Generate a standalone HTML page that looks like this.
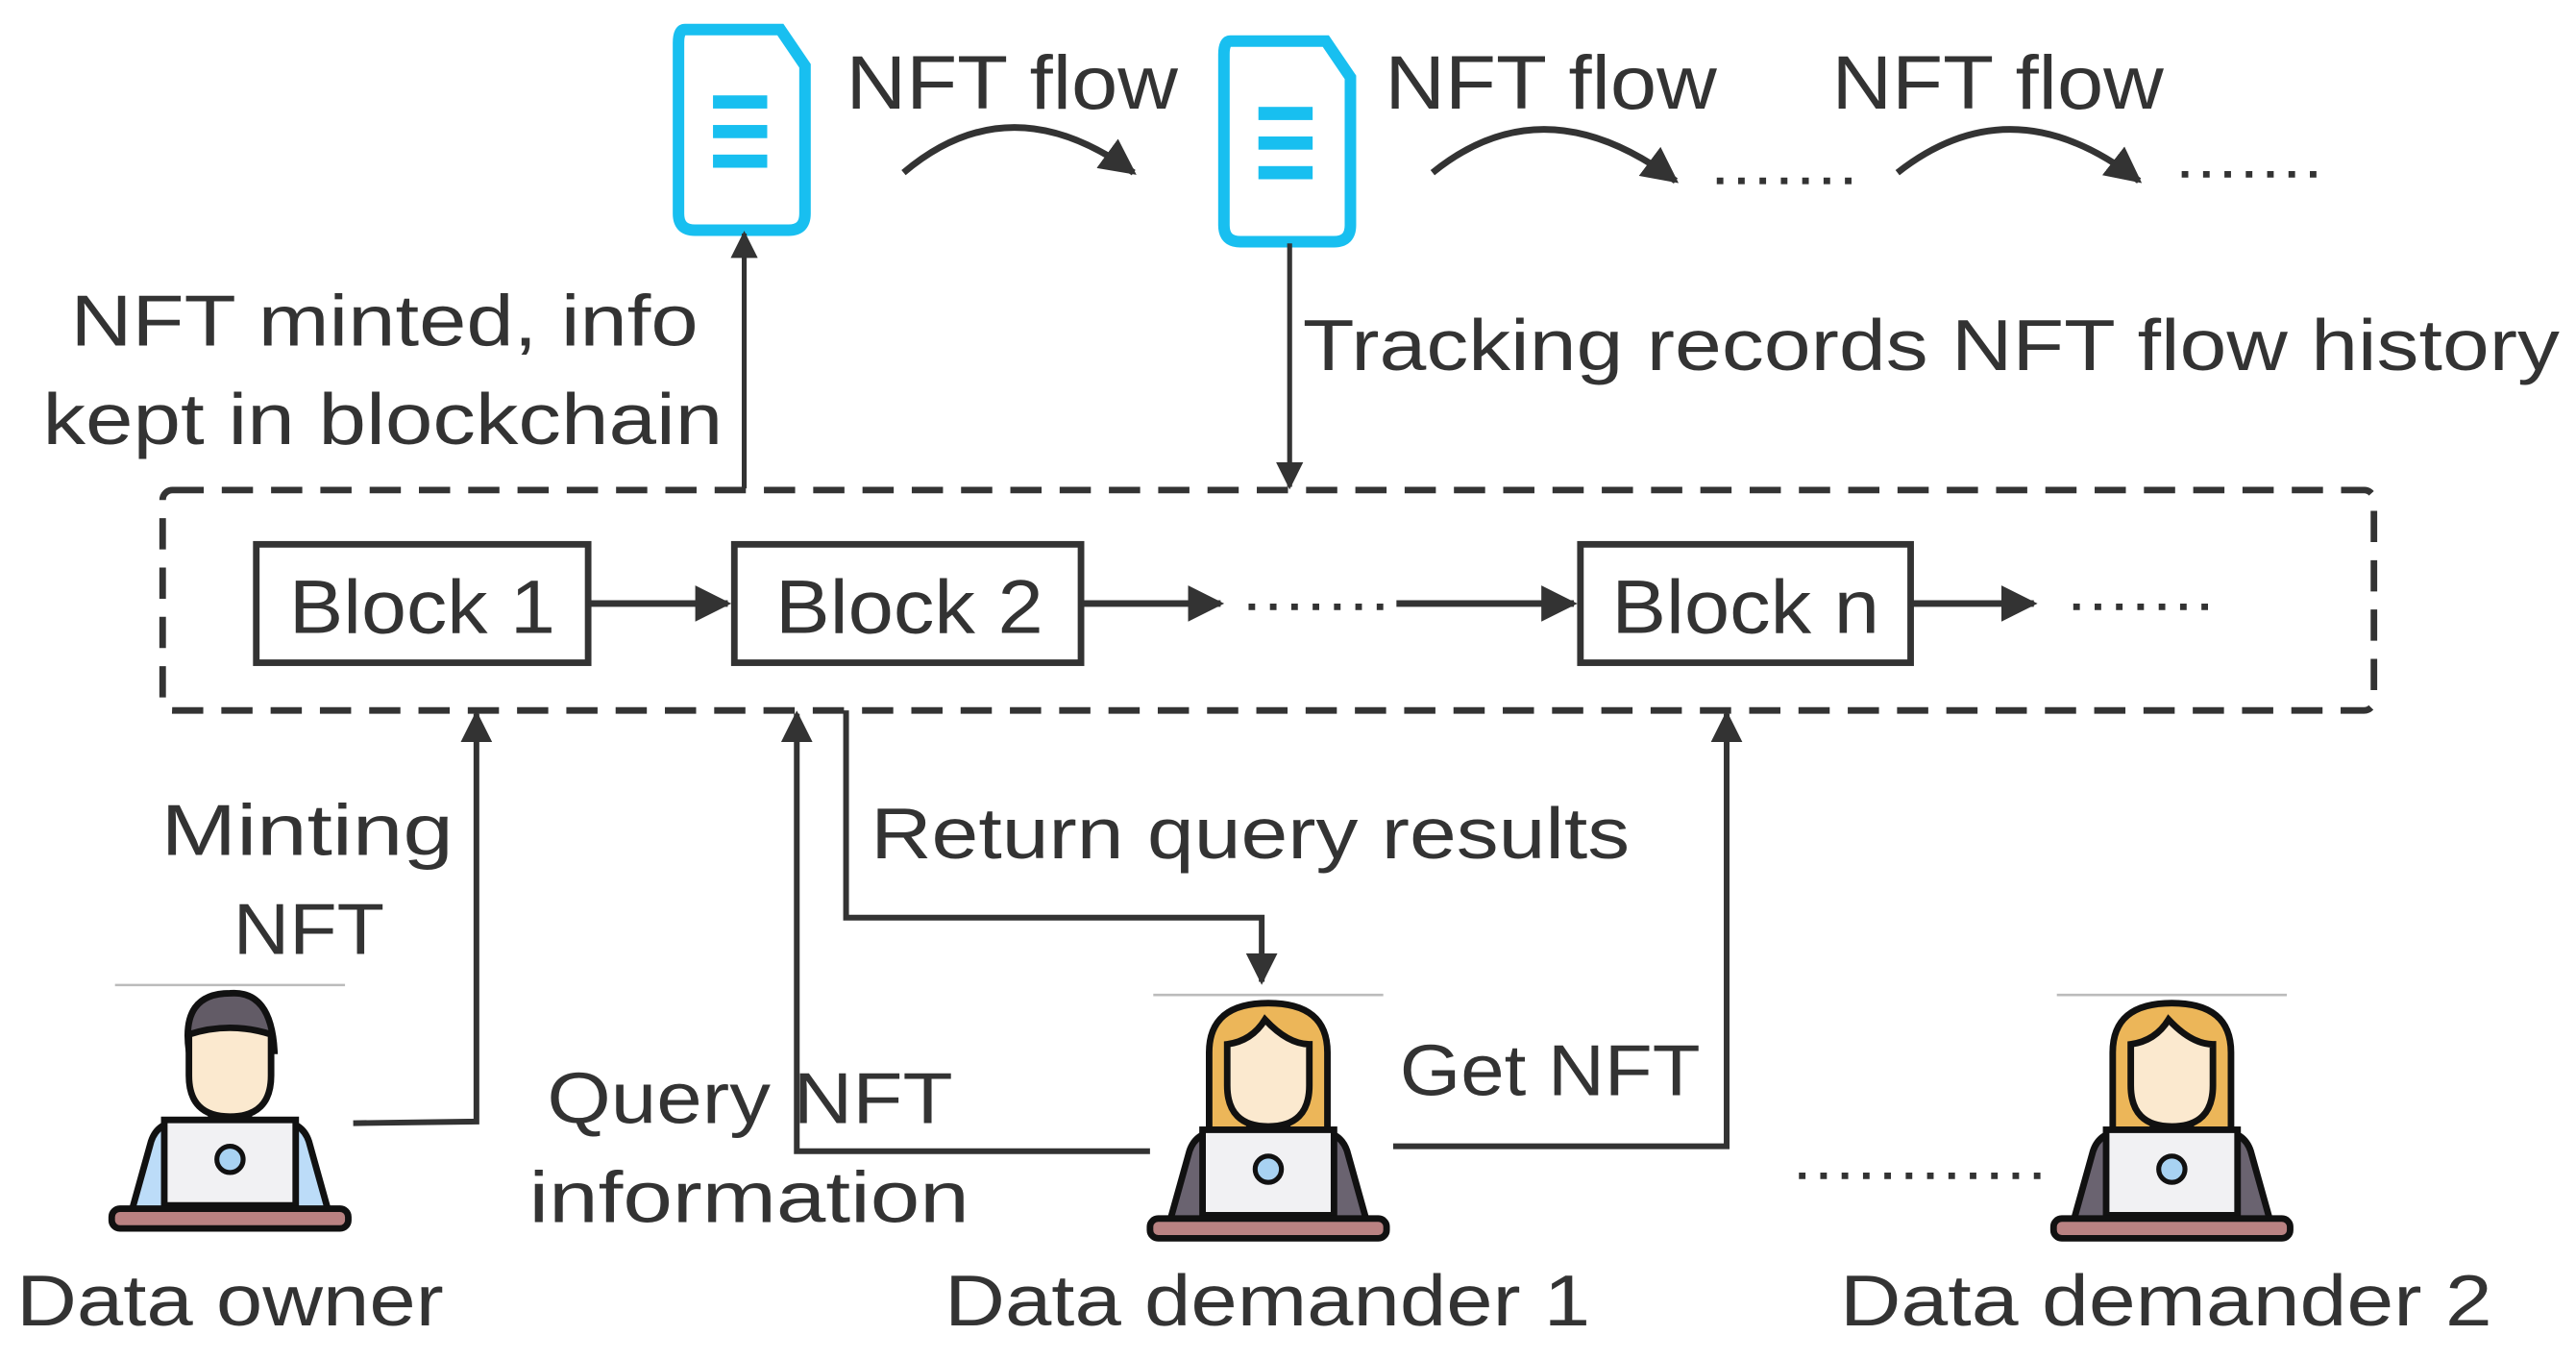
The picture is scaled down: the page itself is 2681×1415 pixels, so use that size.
<!DOCTYPE html>
<html><head><meta charset="utf-8"><style>
html,body{margin:0;padding:0;background:#fff;}
svg{display:block;}
text{font-family:"Liberation Sans",sans-serif;fill:#333;}
</style></head><body>
<svg width="2681" height="1415" viewBox="0 0 1568 827" preserveAspectRatio="none" xmlns="http://www.w3.org/2000/svg">
<defs>
<marker id="ah" viewBox="0 0 10 10" refX="9" refY="5" markerWidth="5.5" markerHeight="5.5" orient="auto-start-reverse" markerUnits="strokeWidth">
<path d="M0,0 L10,5 L0,10 z" fill="#333"/></marker>
<g id="doc">
<path d="M4,0 H62 L77,22 V112 Q77,122 67,122 H10 Q0,122 0,112 V8 Q0,0 4,0 Z" fill="#fff" stroke="#18bff0" stroke-width="7"/>
<rect x="21" y="40" width="33" height="8" fill="#18bff0"/>
<rect x="21" y="58" width="33" height="8" fill="#18bff0"/>
<rect x="21" y="76" width="33" height="8" fill="#18bff0"/>
</g>
<g id="girl">
<line x1="-70" y1="0" x2="70" y2="0" stroke="#bbb" stroke-width="1.5"/>
<path d="M-36,90 V35 Q-36,5 0,5 Q36,5 36,35 V90 Z" fill="#ecb659" stroke="#111" stroke-width="4"/>
<path d="M-12,78 h24 v12 h-24z" fill="#fbe9cf" stroke="#111" stroke-width="3"/>
<path d="M-25,30 Q-10,28 -2,15 Q12,30 25,30 V55 Q25,80 0,80 Q-25,80 -25,55 Z" fill="#fbe9cf" stroke="#111" stroke-width="4"/>
<path d="M-60,138 L-48,95 Q-44,83 -30,83 H30 Q44,83 48,95 L60,138 Z" fill="#6a6370" stroke="#111" stroke-width="4"/>
<rect x="-40" y="82" width="80" height="52" fill="#f1f1f3" stroke="#111" stroke-width="4"/>
<circle cx="0" cy="106" r="8" fill="#a8d2f2" stroke="#111" stroke-width="3"/>
<rect x="-72" y="136" width="144" height="12" rx="5" fill="#b98282" stroke="#111" stroke-width="4"/>
</g>
<g id="man">
<line x1="-70" y1="0" x2="70" y2="0" stroke="#bbb" stroke-width="1.5"/>
<path d="M-25,40 Q-30,5 0,5 Q25,3 27,40 Z" fill="#625b66" stroke="#111" stroke-width="4"/>
<path d="M-12,78 h24 v12 h-24z" fill="#fbe9cf" stroke="#111" stroke-width="3"/>
<path d="M-25,30 Q0,22 25,30 V55 Q25,80 0,80 Q-25,80 -25,55 Z" fill="#fbe9cf" stroke="#111" stroke-width="4"/>
<path d="M-60,138 L-48,95 Q-44,83 -30,83 H30 Q44,83 48,95 L60,138 Z" fill="#bcdcf8" stroke="#111" stroke-width="4"/>
<rect x="-40" y="82" width="80" height="52" fill="#f1f1f3" stroke="#111" stroke-width="4"/>
<circle cx="0" cy="106" r="8" fill="#a8d2f2" stroke="#111" stroke-width="3"/>
<rect x="-72" y="136" width="144" height="12" rx="5" fill="#b98282" stroke="#111" stroke-width="4"/>
</g>
</defs>

<use href="#doc" x="413" y="18"/>
<use href="#doc" x="745" y="25"/>

<g font-size="46">
<text x="515" y="66" textLength="202" lengthAdjust="spacingAndGlyphs">NFT flow</text>
<text x="843" y="66" textLength="202" lengthAdjust="spacingAndGlyphs">NFT flow</text>
<text x="1115" y="66" textLength="202" lengthAdjust="spacingAndGlyphs">NFT flow</text>
</g>
<g fill="none" stroke="#333" stroke-width="4">
<path d="M550,105 Q615,50 690,105" marker-end="url(#ah)"/>
<path d="M872,105 Q940,50 1020,110" marker-end="url(#ah)"/>
<path d="M1155,105 Q1225,50 1302,110" marker-end="url(#ah)"/>
</g>
<g stroke="#333" stroke-width="4" stroke-dasharray="4,9">
<line x1="1045" y1="110" x2="1132" y2="110"/>
<line x1="1328" y1="106" x2="1418" y2="106"/>
<line x1="760" y1="369" x2="850" y2="369"/>
<line x1="1262" y1="369" x2="1352" y2="369"/>
<line x1="1095" y1="715" x2="1242" y2="715"/>
</g>

<g stroke="#333" stroke-width="3" fill="none">
<line x1="453" y1="297" x2="453" y2="142" marker-end="url(#ah)"/>
<line x1="785" y1="148" x2="785" y2="296" marker-end="url(#ah)"/>
</g>
<g font-size="44">
<text x="425" y="210" text-anchor="end" textLength="382" lengthAdjust="spacingAndGlyphs">NFT minted, info</text>
<text x="440" y="270" text-anchor="end" textLength="414" lengthAdjust="spacingAndGlyphs">kept in blockchain</text>
<text x="793" y="225" textLength="765" lengthAdjust="spacingAndGlyphs">Tracking records NFT flow history</text>
</g>

<rect x="99" y="298" width="1346" height="134" rx="6" fill="none" stroke="#333" stroke-width="4" stroke-dasharray="19,11"/>

<g fill="none" stroke="#333" stroke-width="4">
<rect x="156" y="331" width="202" height="72"/>
<rect x="447" y="331" width="211" height="72"/>
<rect x="962" y="331" width="201" height="72"/>
</g>
<g font-size="46">
<text x="176" y="385" textLength="162" lengthAdjust="spacingAndGlyphs">Block 1</text>
<text x="472" y="385" textLength="163" lengthAdjust="spacingAndGlyphs">Block 2</text>
<text x="981" y="385" textLength="163" lengthAdjust="spacingAndGlyphs">Block n</text>
</g>
<g stroke="#333" stroke-width="4" fill="none">
<line x1="358" y1="367" x2="443" y2="367" marker-end="url(#ah)"/>
<line x1="658" y1="367" x2="743" y2="367" marker-end="url(#ah)"/>
<line x1="850" y1="367" x2="958" y2="367" marker-end="url(#ah)"/>
<line x1="1163" y1="367" x2="1238" y2="367" marker-end="url(#ah)"/>
</g>

<g stroke="#333" stroke-width="3.5" fill="none">
<polyline points="215,683 290,682 290,434" marker-end="url(#ah)"/>
<polyline points="700,700 485,700 485,434" marker-end="url(#ah)"/>
<polyline points="515,432 515,558 768,558 768,597" marker-end="url(#ah)"/>
<polyline points="848,697 1051,697 1051,434" marker-end="url(#ah)"/>
</g>
<g font-size="44">
<text x="187" y="520" text-anchor="middle" textLength="178" lengthAdjust="spacingAndGlyphs">Minting</text>
<text x="188" y="580" text-anchor="middle" textLength="92" lengthAdjust="spacingAndGlyphs">NFT</text>
<text x="530" y="522" textLength="462" lengthAdjust="spacingAndGlyphs">Return query results</text>
<text x="333" y="683" textLength="247" lengthAdjust="spacingAndGlyphs">Query NFT</text>
<text x="322" y="743" textLength="268" lengthAdjust="spacingAndGlyphs">information</text>
<text x="852" y="666" textLength="183" lengthAdjust="spacingAndGlyphs">Get NFT</text>
<text x="10" y="806" textLength="260" lengthAdjust="spacingAndGlyphs">Data owner</text>
<text x="575" y="806" textLength="393" lengthAdjust="spacingAndGlyphs">Data demander 1</text>
<text x="1120" y="806" textLength="397" lengthAdjust="spacingAndGlyphs">Data demander 2</text>
</g>

<use href="#man" x="140" y="599"/>
<use href="#girl" x="772" y="605"/>
<use href="#girl" x="1322" y="605"/>
</svg>
</body></html>
